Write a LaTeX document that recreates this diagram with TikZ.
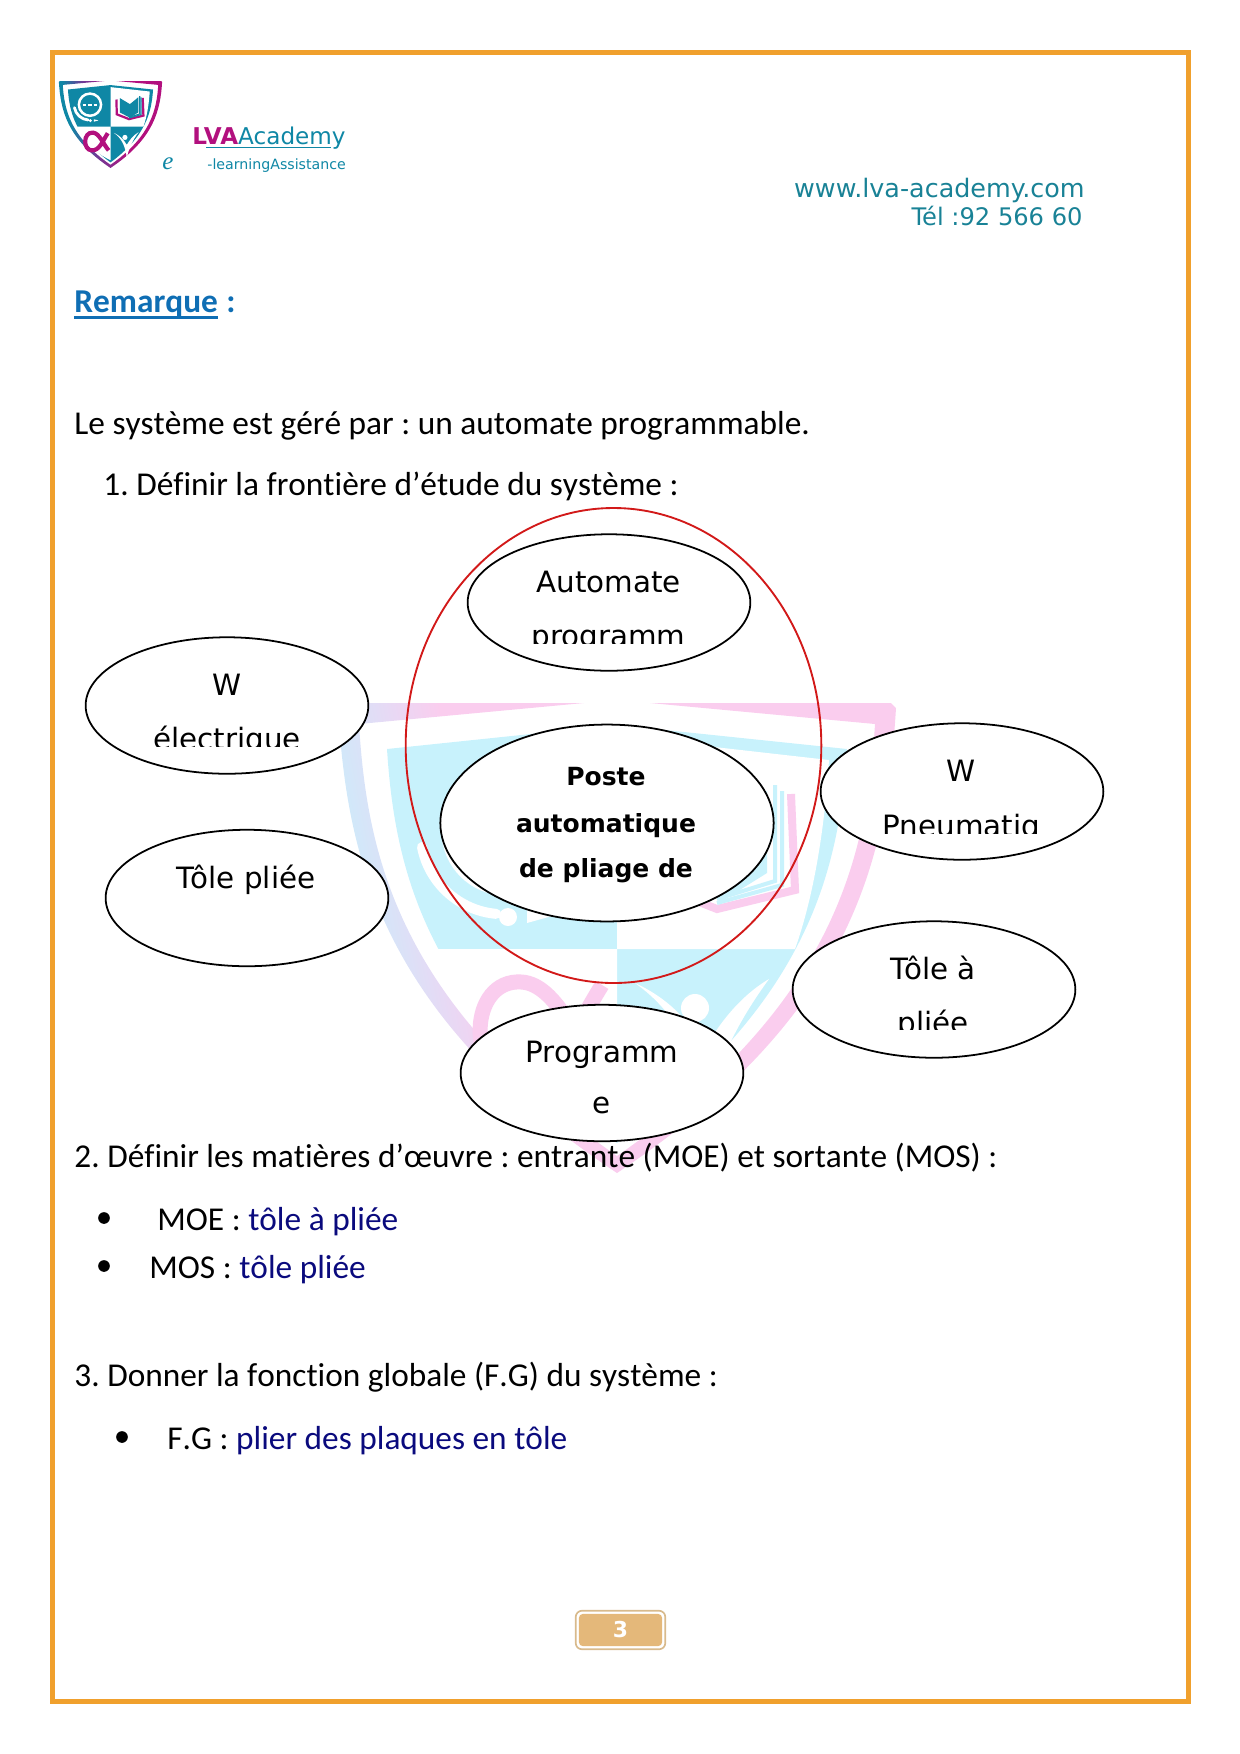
\documentclass[tikz,border=0pt]{standalone}
\usepackage{fontspec}
\usepackage{xcolor}
\usepackage{tikz}
\usetikzlibrary{shapes.geometric,fit}
\setmainfont{Carlito}[Kerning=Off,Ligatures=NoCommon]
\newfontfamily\dejavu{DejaVu Sans}
\newfontfamily\liberserif{Liberation Serif}
\frenchspacing
\definecolor{framegold}{RGB}{240,160,45}
\definecolor{titleblue}{RGB}{15,110,180}
\definecolor{answerblue}{RGB}{10,10,125}
\definecolor{logoteal}{RGB}{15,135,165}
\definecolor{logomagenta}{RGB}{178,16,126}
\definecolor{logopurple}{RGB}{110,60,150}
\definecolor{headteal}{RGB}{25,130,150}
\definecolor{wmcyan}{RGB}{200,242,252}
\definecolor{wmblue}{RGB}{205,235,250}
\definecolor{wmlilac}{RGB}{230,218,245}
\definecolor{wmpink}{RGB}{250,205,238}
\definecolor{badgefill}{RGB}{228,184,122}
\definecolor{badgeedge}{RGB}{216,186,140}
\definecolor{borderred}{RGB}{210,25,25}
\pgfdeclarehorizontalshading{wmband}{100bp}{color(0bp)=(wmblue); color(27bp)=(wmblue); color(33bp)=(wmlilac); color(38bp)=(wmpink); color(100bp)=(wmpink)}
\pgfdeclarehorizontalshading{logoband}{100bp}{color(0bp)=(logoteal); color(30bp)=(logoteal); color(40bp)=(logopurple); color(55bp)=(logomagenta); color(100bp)=(logomagenta)}
\newcommand{\shieldmark}[7]{%
  \begin{scope}[shift={(#1,#2)},scale=#3]
    \pgfmathsetmacro{\shieldpen}{0.48*#3*#7}
    \shade[shading=#4,shading angle=11]
      (33,0) -- (274,0) -- (279,5) .. controls (270,150) and (240,310) .. (0,470)
      .. controls (-240,310) and (-270,150) .. (-279,5) -- (-274,0) -- (-33,0)
      -- (-258,21) .. controls (-250,150) and (-220,300) .. (0,453)
      .. controls (220,300) and (250,150) .. (258,21) -- cycle;
    \fill[#5] (0,22) -- (230,46) .. controls (222,170) and (190,300) .. (0,440)
      .. controls (-190,300) and (-222,170) .. (-230,46) -- cycle;
    \fill[white] (0,33) -- (212,57) .. controls (208,120) and (198,190) .. (178,246) -- (0,246) -- cycle;
    \fill[white] (0,246) -- (-180,246) .. controls (-150,320) and (-90,385) .. (0,428) -- cycle;
    % casque
    \draw[white,line width=9*\shieldpen pt] (-111,128) circle[radius=60];
    \draw[white,line width=10*\shieldpen pt,line cap=round] (-195,144) arc[start angle=169,end angle=95,radius=83];
    \fill[white] (-109,214) circle[radius=9];
    \fill[white] (-90,207) -- (-65,213) -- (-90,220) -- cycle;
    \foreach \dx in {-30,0,30} {\draw[white,line width=8*\shieldpen pt] (-111+\dx-10,128) -- (-111+\dx+10,128);}
    % livre
    \draw[#6,line width=8*\shieldpen pt] (32,100) -- (34,180) -- (100,206) -- (178,187) -- (174,91);
    \fill[#5] (105,125) -- (50,92) -- (50,170) -- (105,198) -- (150,170) -- (150,88) -- cycle;
    \draw[#5,line width=4*\shieldpen pt] (158,82) -- (158,178) -- (100,196);
    \draw[#5,line width=4*\shieldpen pt] (165,88) -- (165,182) -- (100,200);
    % alpha
    \draw[#6,line width=15*\shieldpen pt] (-15,282) .. controls (-45,330) and (-60,375) .. (-100,375)
      .. controls (-150,375) and (-150,275) .. (-95,279) .. controls (-60,282) and (-40,340) .. (-10,375);
    % coche
    \fill[white] (18,280) .. controls (60,310) and (80,350) .. (88,415) .. controls (100,360) and (120,320) .. (152,276)
      .. controls (120,295) and (100,325) .. (88,345) .. controls (70,315) and (50,295) .. (18,280) -- cycle;
    \fill[white] (78,305) circle[radius=14];
  \end{scope}}
\begin{document}
\begin{tikzpicture}[
  x=0.48pt,y=-0.48pt,
  ovale/.style={draw=black,fill=white,ellipse,line width=.85pt,minimum width=135.7pt,minimum height=65.5pt,inner sep=0pt},
  frontiere/.style={draw=borderred,ellipse,line width=.9pt,minimum width=199.5pt,minimum height=228pt,inner sep=0pt},
  etiq/.style={anchor=base,inner sep=0pt,font=\dejavu\fontsize{14.1}{16}\selectfont},
  etiqgras/.style={anchor=base,inner sep=0pt,font=\dejavu\bfseries\fontsize{12}{14}\selectfont},
  corps/.style={anchor=base west,inner sep=0pt,font=\fontsize{16}{18}\selectfont},
  puce/.style={circle,fill=black,inner sep=0pt,minimum size=5.6pt},
  entete/.style={anchor=base east,inner sep=0pt,text=headteal}
]
\useasboundingbox (0,0) rectangle (1240,1754);
\draw[framegold,line width=2.4pt] (52.5,52) rectangle (1188,1701);
\shieldmark{617}{703}{1}{wmband}{wmcyan}{wmpink}{1}
\shieldmark{110.5}{81}{0.185}{logoband}{logoteal}{logomagenta}{1.5}
\node[anchor=base west,inner sep=0pt,font=\dejavu\fontsize{11.1}{13}\selectfont,text=logoteal] (marque) at (192,144)
  {\textcolor{logomagenta}{\bfseries LVA}Academy};
\draw[logoteal,line width=.8pt] (206,147.5) -- (331,147.5);
\node[anchor=base west,inner sep=0pt,font=\liberserif\itshape\fontsize{12}{14}\selectfont,text=logoteal] (lettre) at (162,169) {e};
\node[anchor=base west,inner sep=0pt,font=\dejavu\fontsize{6.8}{8}\selectfont,text=logoteal] (assistance) at (207,169) {-learningAssistance};
\node[entete,font=\dejavu\fontsize{12.2}{14}\selectfont] (site) at (1085,197) {www.lva-academy.com};
\node[entete,font=\dejavu\fontsize{11.6}{14}\selectfont] (tel) at (1083,225) {Tél :92 566 60};
\node[corps,font=\bfseries\fontsize{16}{18}\selectfont,text=titleblue] (remarque) at (74,312.5) {Remarque};
\node[corps,font=\bfseries\fontsize{16}{18}\selectfont,text=titleblue,xshift=3.6pt] (deuxpoints) at (remarque.base east) {:};
\draw[titleblue,line width=1.1pt] ([yshift=-2.4pt]remarque.base west) -- ([yshift=-2.4pt]remarque.base east);
\node[corps] (gere) at (74,434.5) {Le système est géré par : un automate programmable.};
\node[corps] (q1) at (103,495) {1. Définir la frontière d’étude du système :};
\foreach \nom/\xe/\ye in {automate/609/602.5,welec/227/705.5,toleout/247/898,wpneu/962/791.5,tolein/934/989.5,programme/602/1073} {
  \node[ovale] (\nom) at (\xe,\ye) {};
}
\node[ovale,minimum width=160pt,minimum height=94.5pt] (poste) at (607,823) {};
\node[frontiere] (systeme) at (613.5,745.5) {};
\foreach \nom/\xe/\yb/\txt in {lautomate/608.5/592/Automate,lwelec/227/695.5/W,ltoleout/246/888/Tôle pliée,lwpneu/961.5/781.5/W,ltolein/933/979.5/Tôle à,lprogramme/602/1062/Programm,lprogfin/602/1113/e} {
  \node[etiq] (\nom) at (\xe,\yb) {\txt};
}
\foreach \nom/\xe/\yb/\ycut/\txt in {lprogramm/608.5/646/643/programm,lelec/227/749/746/électrique,lpneu/961.5/836/833/Pneumatiq,lplie/933/1033/1029.5/pliée} {
  \begin{scope}
    \clip (\xe-120,\ycut-45) rectangle (\xe+120,\ycut);
    \node[etiq] (\nom) at (\xe,\yb) {\txt};
  \end{scope}
}
\node[etiqgras] (lposte) at (606,785) {Poste};
\node[etiqgras] (lauto) at (606,832) {automatique};
\node[etiqgras] (lpliage) at (606,877) {de pliage de};
\node[corps] (q2) at (74,1167) {2. Définir les matières d’œuvre : entrante (MOE) et sortante (MOS) :};
\node[puce] (p1) at (104,1218) {};
\node[corps] (moe) at (157,1230) {MOE : \textcolor{answerblue}{tôle à pliée}};
\node[puce] (p2) at (104,1266) {};
\node[corps] (mos) at (149,1278) {MOS : \textcolor{answerblue}{tôle pliée}};
\node[corps] (q3) at (74,1386) {3. Donner la fonction globale (F.G) du système :};
\node[puce] (p3) at (122,1437) {};
\node[corps] (fg) at (167,1449) {F.G : \textcolor{answerblue}{plier des plaques en tôle}};
\node[fill=badgefill,rounded corners=2pt,minimum width=40pt,minimum height=15.5pt,inner sep=0pt,text=white,font=\dejavu\bfseries\fontsize{10.5}{12}\selectfont] (numero) at (620.5,1630) {3};
\node[draw=badgeedge,line width=.8pt,rounded corners=3pt,fit=(numero),inner sep=1.3pt] (cadre) {};
\end{tikzpicture}
\end{document}
